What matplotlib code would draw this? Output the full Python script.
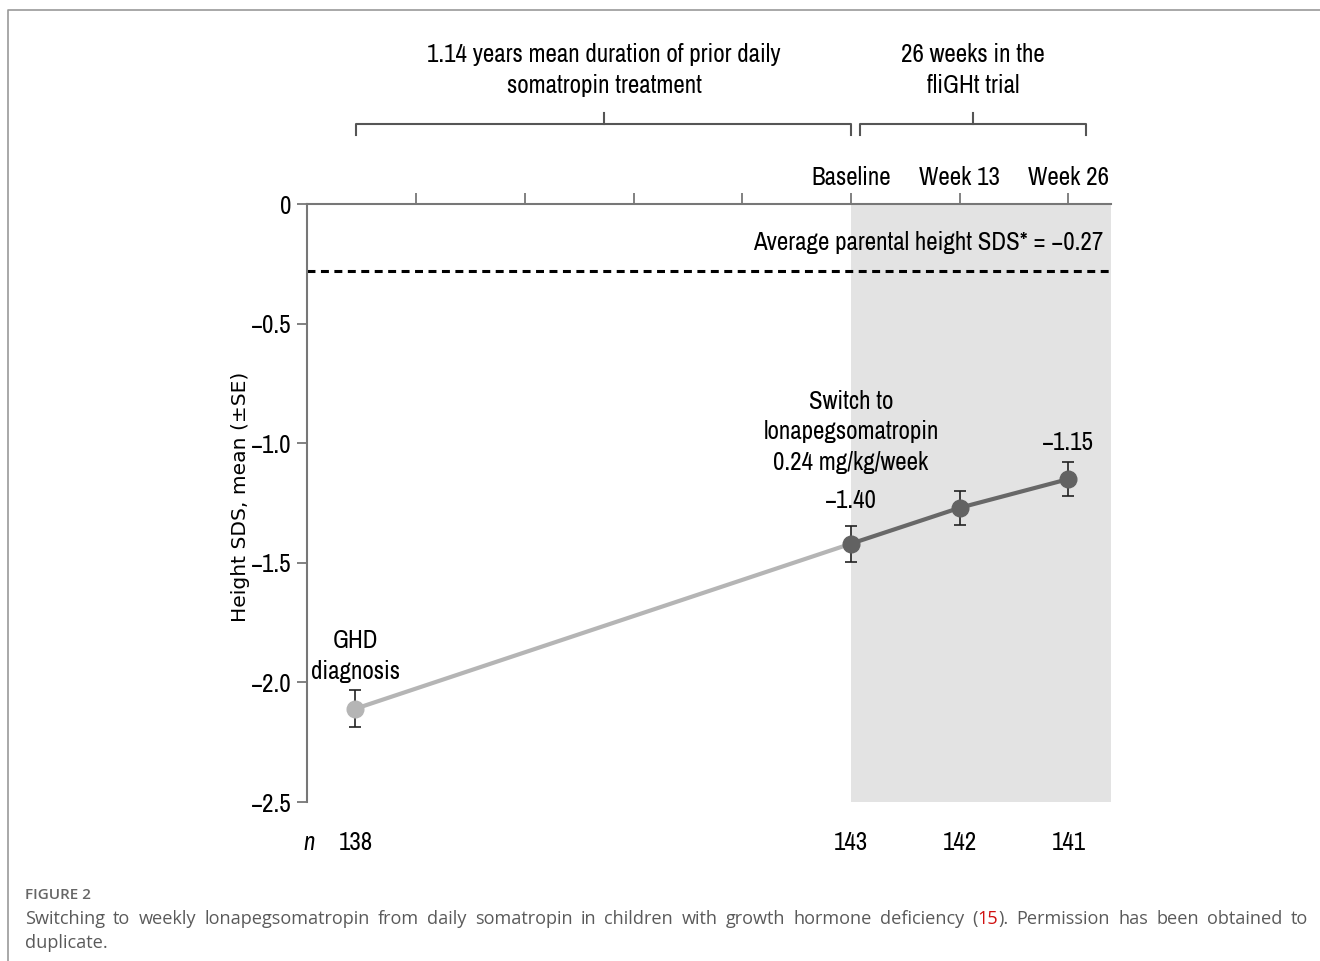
import matplotlib
matplotlib.use('Agg')
import matplotlib.pyplot as plt
from matplotlib import font_manager
from matplotlib.lines import Line2D

# time in weeks relative to baseline (switch), GHD diagnosis ~1.14 y before
weeks = [-59.3, 0, 13, 26]
sds = [-2.11, -1.42, -1.27, -1.15]
se = [0.077, 0.075, 0.07, 0.07]
n_pat = ['138', '143', '142', '141']
parent_sds = -0.28

tick_weeks = [-52, -39, -26, -13, 0, 13, 26]
tick_names = ['', '', '', '', 'Baseline', 'Week 13', 'Week 26']
yticks = [0, -0.5, -1.0, -1.5, -2.0, -2.5]
ytick_names = ['0', '\u22120.5', '\u22121.0', '\u22121.5', '\u22122.0', '\u22122.5']

# look for a condensed face, otherwise fall back to Liberation Sans
fonts = font_manager.fontManager.ttflist
names = {f.name for f in fonts}
narrow = [f for f in fonts if f.style == 'normal' and
          ('Narrow' in f.name or 'Condensed' in f.name or
           f.stretch in ('condensed', 'semi-condensed', 600, 700))]
fstretch = 'normal'
ls = 1.25
if narrow:
    pick = sorted(narrow, key=lambda f: ('Liberation' not in f.name,
                                         'DejaVu' in f.name))[0]
    cond = pick.name
    if isinstance(pick.stretch, str):
        fstretch = pick.stretch
    fs = 18
    ls = 1.4
elif 'Liberation Sans' in names:
    cond = 'Liberation Sans'
    fs = 15
else:
    cond = 'DejaVu Sans'
    fs = 13.5
capfont = 'Open Sans' if 'Open Sans' in names else 'DejaVu Sans'
plt.rcParams['font.family'] = [cond, 'DejaVu Sans']
plt.rcParams['font.stretch'] = fstretch

W, H = 1320, 961
fig = plt.figure(figsize=(W / 100, H / 100), dpi=100)
ax = fig.add_axes([307 / W, 1 - 802 / H, 804 / W, 598 / H])

def ay(py):
    # figure pixel row -> axes fraction
    return (802 - py) / 598

ax.set_xlim(-65.1, 31.1)
ax.set_ylim(-2.5, 0)
ax.axvspan(0, 31.1, color='#e3e3e3', zorder=0, lw=0)

for s in ['right', 'bottom']:
    ax.spines[s].set_visible(False)
for s in ['left', 'top']:
    ax.spines[s].set_color('#777777')
    ax.spines[s].set_linewidth(1.5)

ax.xaxis.tick_top()
ax.set_xticks(tick_weeks, tick_names)
ax.set_yticks(yticks, ytick_names)
ax.tick_params(axis='x', direction='out', length=8, width=1.3, color='#777777',
               pad=3, labelsize=fs)
ax.tick_params(axis='y', direction='out', length=7, width=1.3, color='#777777',
               pad=4, labelsize=fs)

# parental height
ax.axhline(parent_sds, color='black', lw=2.2, ls=(0, (2.6, 1.8)), zorder=1)
ax.text(30.15, -0.163, 'Average parental height SDS* = \u22120.27', ha='right',
        va='center', fontsize=fs)

# lines, error bars, points
ax.plot(weeks[:2], sds[:2], color='#b5b5b5', lw=3, zorder=2)
ax.plot(weeks[1:], sds[1:], color='#686868', lw=3, zorder=2)
ax.errorbar(weeks, sds, yerr=se, fmt='none', ecolor='#222222', elinewidth=1.2,
            capsize=4, capthick=1.2, zorder=3)
ax.plot(weeks[:1], sds[:1], 'o', ms=12, color='#b5b5b5', zorder=4)
ax.plot(weeks[1:], sds[1:], 'o', ms=12, color='#626262', lw=0, zorder=4)

ax.text(weeks[1], -1.24, '\u22121.40', ha='center', va='center', fontsize=fs)
ax.text(weeks[3], -0.997, '\u22121.15', ha='center', va='center', fontsize=fs)
ax.text(weeks[1], -0.952, 'Switch to\nlonapegsomatropin\n0.24 mg/kg/week',
        ha='center', va='center', fontsize=fs, linespacing=ls)
ax.text(weeks[0], -1.89, 'GHD\ndiagnosis', ha='center', va='center', fontsize=fs,
        linespacing=ls)

# n row
tr = ax.get_xaxis_transform()
ax.text(-64.8, ay(843), 'n', style='italic', ha='center', va='center',
        fontsize=fs, transform=tr, clip_on=False)
for x, n in zip(weeks, n_pat):
    ax.text(x, ay(843), n, ha='center', va='center', fontsize=fs,
            transform=tr, clip_on=False)

# period brackets
brackets = [(-59.2, 0, -29.55, '1.14 years mean duration of prior daily\nsomatropin treatment'),
            (1.08, 28.1, 14.6, '26 weeks in the\nfliGHt trial')]
for x0, x1, xc, label in brackets:
    ax.plot([x0, x0, x1, x1], [ay(135), ay(124), ay(124), ay(135)],
            color='#555555', lw=1.5, transform=tr, clip_on=False)
    ax.plot([xc, xc], [ay(124), ay(113)], color='#555555', lw=1.5,
            transform=tr, clip_on=False)
    ax.text(xc, ay(70), label, ha='center', va='center', fontsize=fs,
            linespacing=ls, transform=tr, clip_on=False)

ax.set_ylabel('Height SDS, mean (\u00b1SE)', family='DejaVu Sans', fontsize=14.6,
              fontstretch='normal')
ax.yaxis.set_label_coords((250 - 307) / 804, ay(497))

# frame lines
fig.add_artist(Line2D([8 / W, 8 / W, 1], [0, 1 - 10 / H, 1 - 10 / H],
                      color='#999999', lw=1.2, transform=fig.transFigure))

# caption
fig.text(25 / W, 1 - 895 / H, 'FIGURE 2', family=capfont, weight='semibold',
         color='#666666', fontsize=11, va='center', fontstretch='normal')

renderer = fig.canvas.get_renderer()
gray = '#5a5a5a'
cap_size = 13.1
line1 = ('Switching to weekly lonapegsomatropin from daily somatropin in children '
         'with growth hormone deficiency').split()
words = [[(w, gray)] for w in line1]
words.append([('(', gray), ('15', '#d01010'), (').', gray)])
words += [[(w, gray)] for w in 'Permission has been obtained to'.split()]

def width(s):
    t = fig.text(0, 0, s, family=capfont, fontsize=cap_size, fontstretch='normal')
    w = t.get_window_extent(renderer).width
    t.remove()
    return w

widths = [sum(width(p) for p, _ in wd) for wd in words]
gap = (1308 - 25 - sum(widths)) / (len(words) - 1)
x = 25
for wd, ww in zip(words, widths):
    px = x
    for p, c in wd:
        fig.text(px / W, 1 - 919 / H, p, family=capfont, fontsize=cap_size,
                 color=c, va='center', fontstretch='normal')
        px += width(p)
    x += ww + gap
fig.text(25 / W, 1 - 943 / H, 'duplicate.', family=capfont, fontsize=cap_size,
         color=gray, va='center', fontstretch='normal')

fig.savefig('out.png', dpi=100)
